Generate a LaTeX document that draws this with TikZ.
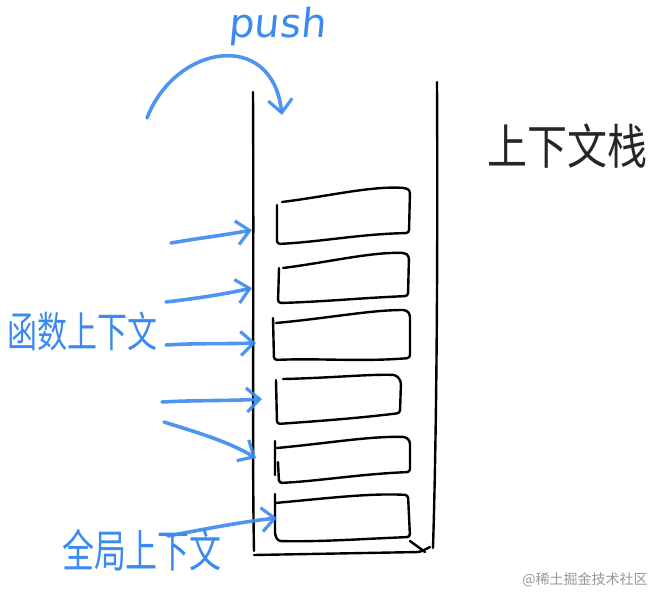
\documentclass[tikz,border=0pt]{standalone}
\usepackage{fontspec}
\newfontfamily\cjk{Noto Sans CJK SC}
\newfontfamily\latinhand{DejaVu Sans}
\usetikzlibrary{arrows.meta}
\definecolor{penblue}{RGB}{58,138,240}
\definecolor{markgray}{RGB}{150,150,150}
\tikzset{
  pen/.style={draw=black, line width=2.4pt, line cap=round, line join=round, rounded corners=3pt},
  bluepen/.style={draw=penblue, line width=3.6pt, line cap=round, line join=round, opacity=0.9,
    -{Straight Barb[length=13pt,width=24pt,line width=3.2pt]}},
  bluetext/.style={text=penblue, inner sep=0pt},
  blacktext/.style={text=black!85, inner sep=0pt},
}
\begin{document}
\begin{tikzpicture}[x=1pt,y=-1pt]
\useasboundingbox (0,0) rectangle (662,605);
% container
\draw[pen] (253,92) .. controls (254,300) and (252,450) .. (254,551);
\draw[pen] (437,82) .. controls (438,300) and (436,450) .. (433,548);
\draw[pen] (254,555) -- (420,552) -- (430,547);
\draw[pen] (410,541) -- (425,552);
% boxes
\draw[pen] (282,202) .. controls (330,196) and (370,186) .. (405,188) -- (410,190) -- (409,233) .. controls (360,234) and (320,242) .. (277,244) -- (277,205);
\draw[pen] (283,268) .. controls (330,262) and (370,252) .. (405,253) -- (409,256) -- (408,296) .. controls (360,298) and (320,302) .. (278,303) -- (279,268);
\draw[pen] (276,323) .. controls (330,318) and (370,310) .. (406,310) -- (410,314) -- (410,358) .. controls (360,362) and (320,358) .. (274,360) -- (273,318);
\draw[pen] (283,379) .. controls (330,378) and (370,374) .. (396,375) -- (401,381) -- (400,413) .. controls (360,418) and (320,421) .. (277,424) -- (276,380);
\draw[pen] (277,448) .. controls (330,443) and (370,436) .. (406,437) -- (410,441) -- (410,472) .. controls (360,474) and (320,481) .. (279,483) -- (278,462) (275,441) -- (275,475);
\draw[pen] (275,503) .. controls (330,498) and (370,493) .. (408,495) -- (410,537) .. controls (360,539) and (320,542) .. (278,541) -- (275,535) -- (275,494);
% arrow targets
\coordinate (t1) at (252,230);
\coordinate (t2) at (252,288);
\coordinate (t3) at (256,343);
\coordinate (t4) at (262,399);
\coordinate (t5) at (256,458);
\coordinate (t6) at (277,518);
\coordinate (tp) at (282,115);
% arrow starts
\coordinate (s1) at (171,243);
\coordinate (s2) at (166,302);
\coordinate (s3) at (166,345);
\coordinate (s4) at (162,402);
\coordinate (s5) at (164,422);
\coordinate (s6) at (168,536);
\coordinate (sp) at (147,118);
\draw[bluepen] (s1) .. controls (200,238) and (225,235) .. (t1);
\draw[bluepen] (s2) .. controls (200,298) and (225,294) .. (t2);
\draw[bluepen] (s3) .. controls (200,343) and (225,344) .. (t3);
\draw[bluepen] (s4) .. controls (200,400) and (230,401) .. (t4);
\draw[bluepen] (s5) .. controls (195,432) and (225,440) .. (t5);
\draw[bluepen] (s6) .. controls (200,530) and (240,522) .. (t6);
\draw[bluepen] (sp) .. controls (175,45) and (272,28) .. (tp);
% texts
\node[bluetext, font=\latinhand\fontsize{40}{40}\selectfont, xslant=0.1] (push) at (278,26) {push};
\node[blacktext, font=\cjk\fontsize{40}{40}\selectfont, yscale=1.2] (stack) at (567,146) {上下文栈};
\node[bluetext, font=\cjk\fontsize{30}{30}\selectfont, yscale=1.4] (fnctx) at (83,331) {函数上下文};
\node[bluetext, font=\cjk\fontsize{32}{32}\selectfont, yscale=1.4] (glctx) at (142,550) {全局上下文};
\node[text=markgray, inner sep=0pt, font=\cjk\fontsize{14}{14}\selectfont] (mark) at (585,580) {@稀土掘金技术社区};
\end{tikzpicture}
\end{document}
